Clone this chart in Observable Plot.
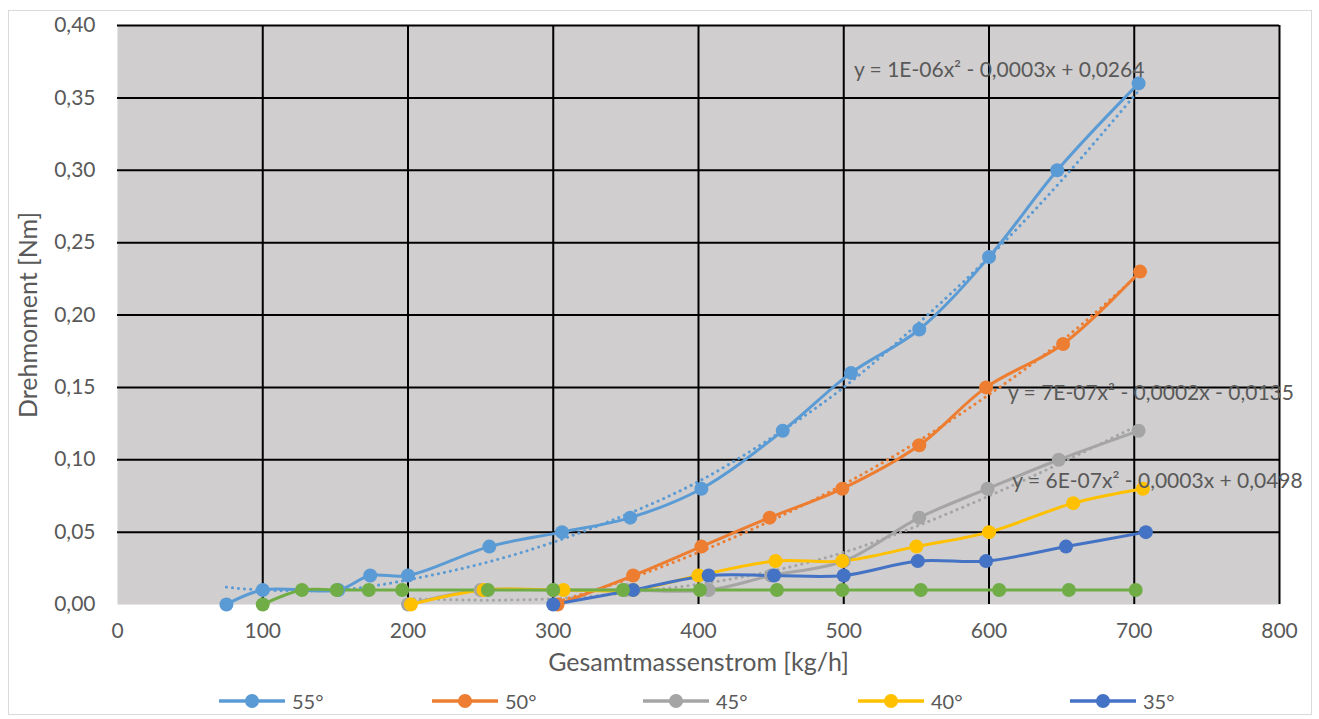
<!DOCTYPE html>
<html>
<head>
<meta charset="utf-8">
<script src="https://cdn.jsdelivr.net/npm/d3@7"></script>
<script src="https://cdn.jsdelivr.net/npm/@observablehq/plot@0.6"></script>
<style>
  html, body { margin: 0; padding: 0; background: #fff; }
  #wrap { position: relative; width: 1319px; height: 719px; font-family: Lato, "Open Sans", sans-serif; }
  #border { position: absolute; left: 8px; top: 10px; width: 1304px; height: 705px; border: 1.5px solid #d9d9d9; box-sizing: border-box; }
  #chart { position: absolute; left: 0; top: 0; }
  #legend { position: absolute; left: 0; top: 688px; width: 1319px; height: 26px; }
  .item { position: absolute; top: 0; height: 26px; display: flex; align-items: center; font-size: 20px; color: #595959; }
  .item svg { margin-right: 5px; }
</style>
</head>
<body>
<div id="wrap">
  <div id="border"></div>
  <div id="chart"></div>
  <div id="legend"></div>
</div>
<script>
// ---- data ----
const seriesNames = ["55°", "50°", "45°", "40°", "35°", "30°"];
const seriesColors = ["#5B9BD5", "#ED7D31", "#A5A5A5", "#FFC000", "#4472C4", "#70AD47"];
const legendNames = ["55°", "50°", "45°", "40°", "35°"];

const x55 = [75, 100, 152, 174, 200, 256, 306, 353, 402, 458, 505, 552, 600, 647, 703];
const y55 = [0.00, 0.01, 0.01, 0.02, 0.02, 0.04, 0.05, 0.06, 0.08, 0.12, 0.16, 0.19, 0.24, 0.30, 0.36];

const x50 = [303, 355, 402, 449, 499, 552, 598, 651, 704];
const y50 = [0.00, 0.02, 0.04, 0.06, 0.08, 0.11, 0.15, 0.18, 0.23];

const x45 = [200, 250, 300, 350, 407, 450, 500, 552, 599, 648, 703];
const y45 = [0.00, 0.01, 0.01, 0.01, 0.01, 0.02, 0.03, 0.06, 0.08, 0.10, 0.12];

const x40 = [202, 252, 307, 355, 400, 453, 499, 550, 600, 658, 706];
const y40 = [0.00, 0.01, 0.01, 0.01, 0.02, 0.03, 0.03, 0.04, 0.05, 0.07, 0.08];

const x35 = [300, 355, 407, 452, 500, 551, 598, 653, 708];
const y35 = [0.00, 0.01, 0.02, 0.02, 0.02, 0.03, 0.03, 0.04, 0.05];

const x30 = [100, 127, 151, 173, 196, 255, 300, 348, 401, 454, 499, 553, 607, 655, 701];
const y30 = [0.00, 0.01, 0.01, 0.01, 0.01, 0.01, 0.01, 0.01, 0.01, 0.01, 0.01, 0.01, 0.01, 0.01, 0.01];

// dotted trend lines
const trendX55 = [75, 100, 150, 200, 250, 300, 350, 400, 450, 500, 550, 600, 650, 703];
const trendY55 = [0.012, 0.010, 0.010, 0.017, 0.028, 0.043, 0.062, 0.085, 0.115, 0.150, 0.193, 0.240, 0.293, 0.355];
const trendX50 = [303, 350, 400, 450, 500, 550, 600, 650, 703];
const trendY50 = [0.002, 0.017, 0.036, 0.058, 0.083, 0.112, 0.145, 0.182, 0.228];
const trendX45 = [200, 250, 300, 350, 400, 450, 500, 550, 600, 650, 703];
const trendY45 = [0.004, 0.003, 0.004, 0.008, 0.014, 0.023, 0.036, 0.054, 0.075, 0.098, 0.124];

const xTicks = [0, 100, 200, 300, 400, 500, 600, 700, 800];
const yTicks = [0, 0.05, 0.10, 0.15, 0.20, 0.25, 0.30, 0.35, 0.40];

const eqTexts = [
  "y = 1E-06x² - 0,0003x + 0,0264",
  "y = 7E-07x² - 0,0002x - 0,0135",
  "y = 6E-07x² - 0,0003x + 0,0498"
];
const eqX = [507, 613, 616];
const eqY = [0.369, 0.146, 0.085];

// ---- build tables ----
const xs = [x55, x50, x45, x40, x35, x30];
const ys = [y55, y50, y45, y40, y35, y30];
const data = [];
xs.forEach((arr, i) => arr.forEach((x, j) => data.push({s: seriesNames[i], x, y: ys[i][j]})));
const trends = [];
[[trendX55, trendY55, 0], [trendX50, trendY50, 1], [trendX45, trendY45, 2]].forEach(([tx, ty, i]) =>
  tx.forEach((x, j) => trends.push({s: seriesNames[i], x, y: ty[j]})));
const eqs = eqTexts.map((t, i) => ({t, x: eqX[i], y: eqY[i]}));

const color = {domain: seriesNames, range: seriesColors};
const fmt = d => d3.format(".2f")(d).replace(".", ",");

const chart = Plot.plot({
  width: 1319,
  height: 680,
  marginTop: 25,
  marginLeft: 117,
  marginRight: 40,
  marginBottom: 76,
  style: {fontFamily: "Lato, 'Open Sans', sans-serif", fontSize: "17px", color: "#595959", background: "transparent"},
  x: {domain: [0, 800], ticks: xTicks},
  y: {domain: [0, 0.40], ticks: yTicks},
  color,
  marks: [
    Plot.frame({fill: "#d0cece", stroke: null}),
    Plot.ruleX(xTicks.filter(d => d > 0), {stroke: "#000", strokeWidth: 2}),
    Plot.ruleY(yTicks.filter(d => d > 0), {stroke: "#000", strokeWidth: 2}),
    Plot.axisX({ticks: xTicks, tickSize: 0, tickPadding: 19, fontSize: 21, label: null}),
    Plot.axisX({ticks: [], tickSize: 0, fontSize: 25, label: "Gesamtmassenstrom [kg/h]", labelAnchor: "center", labelOffset: 66, labelArrow: "none"}),
    Plot.axisY({ticks: yTicks, tickSize: 0, tickPadding: 22, tickFormat: fmt, fontSize: 21, label: null}),
    Plot.axisY({ticks: [], tickSize: 0, fontSize: 25, label: "Drehmoment [Nm]", labelAnchor: "center", labelOffset: 98, labelArrow: "none"}),
    Plot.line(trends, {x: "x", y: "y", z: "s", stroke: "s", strokeWidth: 3, strokeDasharray: "0.1 6", strokeLinecap: "round", curve: "natural"}),
    Plot.line(data, {x: "x", y: "y", z: "s", stroke: "s", strokeWidth: 3, curve: "catmull-rom"}),
    Plot.dot(data, {x: "x", y: "y", fill: "s", r: 7}),
    Plot.text(eqs, {x: "x", y: "y", text: "t", textAnchor: "start", fill: "#595959", fontSize: 21})
  ]
});
document.getElementById("chart").appendChild(chart);

// ---- legend ----
const legendLeft = [217, 430, 641, 856, 1068];
const leg = document.getElementById("legend");
legendNames.forEach((n, i) => {
  const c = seriesColors[seriesNames.indexOf(n)];
  const div = document.createElement("div");
  div.className = "item";
  div.style.left = legendLeft[i] + "px";
  div.innerHTML = `<svg width="70" height="20"><line x1="2" y1="10" x2="68" y2="10" stroke="${c}" stroke-width="3.5"/><circle cx="35" cy="10" r="7" fill="${c}"/></svg><span>${n}</span>`;
  leg.appendChild(div);
});
</script>
</body>
</html>
